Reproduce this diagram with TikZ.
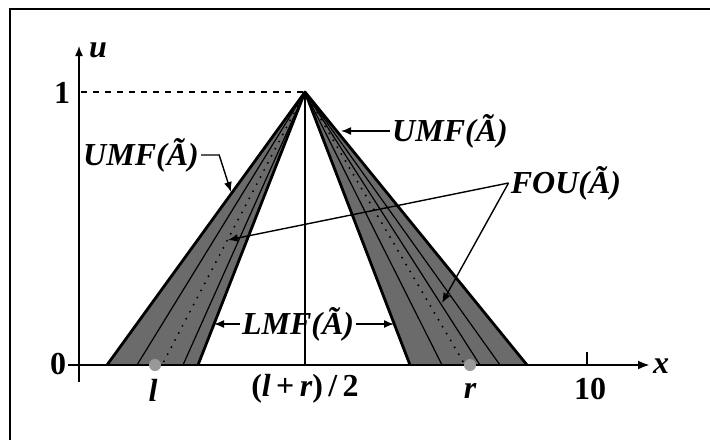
\documentclass[tikz,border=0pt]{standalone}
\usepackage{fontspec}
\setmainfont{Liberation Serif}
\usetikzlibrary{arrows.meta}

\begin{document}
\begin{tikzpicture}[x=0.5pt,y=-0.5pt,
		lbl/.style={font=\fontsize{16}{19}\selectfont\bfseries\itshape, inner sep=1pt},
		num/.style={font=\fontsize{16}{19}\selectfont\bfseries, inner sep=1pt},
		ptr/.style={-{Latex[length=5pt,width=4pt]}, line width=0.7pt}]

		\useasboundingbox (0,0) rectangle (710,439);

		% Frame (cut off at right and bottom)
		\draw[line width=1.2pt] (10,9) rectangle (716,446);

		% Coordinates
		\coordinate (p) at (305,92);

		\coordinate (la) at (107,365);
		\coordinate (lb) at (137,365);
		\coordinate (lc) at (162,365);
		\coordinate (ld) at (183,365);
		\coordinate (le) at (198,365);

		\coordinate (ra) at (410,365);
		\coordinate (rb) at (442,365);
		\coordinate (rc) at (465,365);
		\coordinate (rd) at (480,365);
		\coordinate (re) at (500,365);
		\coordinate (rf) at (527,365);

		% Footprint bands (gray)
		\fill[black!58] (la) -- (p) -- (le) -- cycle;
		\fill[black!58] (ra) -- (p) -- (rf) -- cycle;

		% Inner lines
		\draw[line width=0.6pt] (p) -- (lb);
		\draw[line width=0.6pt] (p) -- (ld);
		\draw[line width=0.6pt] (p) -- (rb);
		\draw[line width=0.6pt] (p) -- (rd);
		\draw[line width=0.6pt] (p) -- (re);
		\draw[line width=1.1pt, line cap=round, dash pattern=on 0pt off 4pt] (p) -- (lc);
		\draw[line width=1.1pt, line cap=round, dash pattern=on 0pt off 4pt] (p) -- (rc);

		% Outer and inner edges
		\draw[line width=1.4pt, line join=round] (la) -- (p) -- (le);
		\draw[line width=1.4pt, line join=round] (ra) -- (p) -- (rf);

		% Dashed level and centre line
		\draw[dashed, line width=0.6pt] (81,92) -- (p);
		\draw[line width=0.6pt] (p) -- (305,365);

		% Axes
		\draw[line width=0.7pt, -{Latex[length=5pt,width=4pt]}] (79,382) -- (79,46);
		\draw[line width=1.3pt, -{Latex[length=6pt,width=4.5pt]}] (68,365) -- (650,365);
		\draw[line width=0.6pt] (587,365) -- (587,352);

		% Points l and r
		\fill[black!40] (155,365) circle[radius=3pt];
		\fill[black!40] (470,365) circle[radius=3pt];

		% Axis labels
		\node[lbl] (u) at (98,50) {u};
		\node[lbl] (xl) at (661,366) {x};
		\node[num] (one) at (62,93) {1};
		\node[num] (zero) at (58,364) {0};
		\node[lbl] (lt) at (153,390) {l};
		\node[num] (mid) at (305,389) {(\textit{l}\,+\,\textit{r})\,/\,2};
		\node[lbl] (rt) at (470,391) {r};
		\node[num] (ten) at (590,389) {10};

		% Annotations
		\node[lbl] (umfl) at (141,155) {UMF(Ã)};
		\node[lbl] (umfr) at (450,131) {UMF(Ã)};
		\node[lbl] (fou) at (566,183) {FOU(Ã)};
		\node[lbl] (lmf) at (298,324) {LMF(Ã)};

		\coordinate (t1) at (231,192);
		\coordinate (t2) at (341,131);
		\coordinate (t3) at (228,240);
		\coordinate (t4) at (442,303);
		\coordinate (t5) at (214,324);
		\coordinate (t6) at (394,324);

		\draw[ptr] (umfl.east) -- ++(18,0) -- (t1);
		\draw[ptr] (umfr.west) -- (t2);
		\draw[ptr] (fou.west) -- (t3);
		\draw[ptr] (fou.west) -- (t4);
		\draw[ptr] (lmf.west) -- (t5);
		\draw[ptr] (lmf.east) -- (t6);

	\end{tikzpicture}
\end{document}
